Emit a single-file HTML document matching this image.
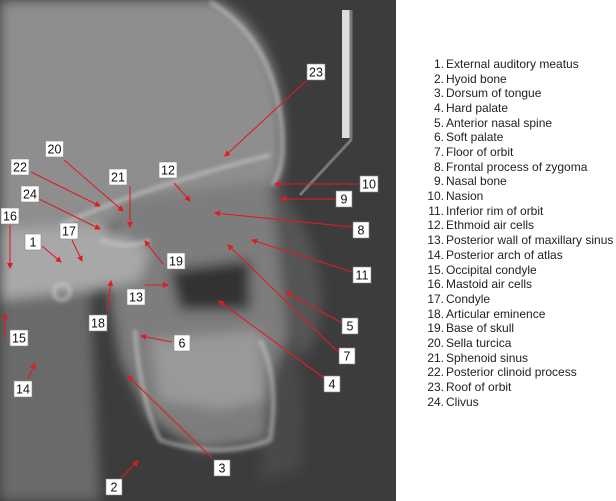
<!DOCTYPE html>
<html><head><meta charset="utf-8"><style>
html,body{margin:0;padding:0;background:#fff;width:616px;height:501px;overflow:hidden}
svg{position:absolute;left:0;top:0;overflow:hidden;display:block}
.lg{position:absolute;left:0;top:0;width:616px;height:420px;font:12px "Liberation Sans",sans-serif;color:#222}
.lg div{position:absolute;height:15px;line-height:15px;white-space:nowrap}
.lg span{display:inline-block;width:20px;text-align:right;margin-right:2px}
</style></head><body>
<svg width="616" height="501" viewBox="0 0 616 501">
<defs>
<filter id="b" filterUnits="userSpaceOnUse" x="0" y="0" width="396" height="501"><feGaussianBlur stdDeviation="6"/></filter>
<filter id="b2" filterUnits="userSpaceOnUse" x="0" y="0" width="396" height="501"><feGaussianBlur stdDeviation="2"/></filter>
<clipPath id="c"><rect x="0" y="0" width="396" height="501"/></clipPath>
<marker id="ah" markerWidth="6" markerHeight="6" refX="5" refY="3" orient="auto" markerUnits="userSpaceOnUse"><path d="M0,0 L6,3 L0,6 z" fill="#e01b24"/></marker>
</defs>
<rect x="0" y="0" width="396" height="501" fill="#3c3c3c"/>
<g clip-path="url(#c)">
<g filter="url(#b)">
<path d="M0,0 L215,0 Q275,30 282,120 Q286,170 275,190 L230,200 L140,215 L60,240 L0,245 Z" fill="#8e8e8e"/>
<path d="M120,200 L275,180 L300,240 L310,290 L300,330 L290,370 L270,440 L200,450 L150,420 L120,360 L110,300 Z" fill="#7d7d7d"/>
<path d="M270,180 Q310,220 320,280 Q325,320 310,350 L290,360 Z" fill="#555"/>
<path d="M290,330 Q310,380 300,470 L260,480 L270,380 Z" fill="#4a4a4a"/>
<path d="M0,230 L100,225 L150,250 L140,280 L60,300 L0,300 Z" fill="#a8a8a8"/>
<path d="M0,300 L90,290 L100,501 L0,501 Z" fill="#6a6a6a"/>
<path d="M150,340 L260,330 L265,400 L220,410 L160,400 Z" fill="#999"/>
<path d="M170,270 L250,260 L250,310 L180,310 Z" fill="#333"/>
</g>
<g fill="none" stroke="#cfcfcf" stroke-width="3" filter="url(#b2)" opacity="0.8">
<path d="M210,2 Q275,40 282,130 Q285,170 272,185"/>
<path d="M60,225 Q150,185 270,155"/>
<path d="M100,240 Q130,250 150,240"/>
<path d="M135,330 Q140,400 160,440 Q220,460 270,440 Q280,380 260,340"/>
<circle cx="62" cy="292" r="8"/>
</g>
</g>
<rect x="342" y="10" width="9" height="128" fill="#ddd"/>
<path d="M351,10 V140 L300,195" stroke="#777" stroke-width="3" fill="none"/>
<g stroke="#e01b24" stroke-width="1.1" marker-end="url(#ah)">
<line x1="306" y1="81" x2="225" y2="156"/>
<line x1="64" y1="160" x2="123" y2="211"/>
<line x1="31" y1="172" x2="100" y2="206"/>
<line x1="130" y1="186" x2="130" y2="227"/>
<line x1="174" y1="183" x2="190" y2="201"/>
<line x1="39" y1="199" x2="100" y2="229"/>
<line x1="10" y1="225" x2="10" y2="268"/>
<line x1="72" y1="240" x2="82" y2="261"/>
<line x1="42" y1="246" x2="61" y2="262"/>
<line x1="163" y1="264" x2="145" y2="241"/>
<line x1="145" y1="285" x2="168" y2="285"/>
<line x1="107" y1="311" x2="111" y2="281"/>
<line x1="5" y1="338" x2="5" y2="314"/>
<line x1="172" y1="342" x2="141" y2="336"/>
<line x1="28" y1="379" x2="35" y2="364"/>
<line x1="213" y1="459" x2="128" y2="376"/>
<line x1="121" y1="478" x2="138" y2="461"/>
<line x1="359" y1="184" x2="275" y2="184"/>
<line x1="335" y1="199" x2="281" y2="199"/>
<line x1="352" y1="227" x2="215" y2="213"/>
<line x1="352" y1="272" x2="252" y2="240"/>
<line x1="342" y1="323" x2="286" y2="292"/>
<line x1="338" y1="352" x2="228" y2="245"/>
<line x1="324" y1="378" x2="219" y2="301"/>
</g>
<g font-family="Liberation Sans, sans-serif" font-size="12.5" text-anchor="middle" fill="#111" stroke-width="0.6">
<rect x="307" y="64" width="18" height="16" fill="#fff" stroke="#888"/><text x="316" y="76.5">23</text>
<rect x="45.5" y="141" width="18" height="16" fill="#fff" stroke="#888"/><text x="54.5" y="153.5">20</text>
<rect x="11" y="159" width="18" height="16" fill="#fff" stroke="#888"/><text x="20" y="171.5">22</text>
<rect x="109" y="169" width="18" height="16" fill="#fff" stroke="#888"/><text x="118" y="181.5">21</text>
<rect x="159" y="162" width="18" height="16" fill="#fff" stroke="#888"/><text x="168" y="174.5">12</text>
<rect x="21" y="186" width="18" height="16" fill="#fff" stroke="#888"/><text x="30" y="198.5">24</text>
<rect x="1" y="208" width="18" height="16" fill="#fff" stroke="#888"/><text x="10" y="220.5">16</text>
<rect x="60" y="223" width="18" height="16" fill="#fff" stroke="#888"/><text x="69" y="235.5">17</text>
<rect x="25" y="234" width="16" height="16" fill="#fff" stroke="#888"/><text x="33" y="246.5">1</text>
<rect x="167" y="253" width="18" height="16" fill="#fff" stroke="#888"/><text x="176" y="265.5">19</text>
<rect x="127" y="289" width="18" height="16" fill="#fff" stroke="#888"/><text x="136" y="301.5">13</text>
<rect x="89" y="315" width="18" height="16" fill="#fff" stroke="#888"/><text x="98" y="327.5">18</text>
<rect x="10" y="330" width="18" height="16" fill="#fff" stroke="#888"/><text x="19" y="342.5">15</text>
<rect x="174" y="335" width="16" height="16" fill="#fff" stroke="#888"/><text x="182" y="347.5">6</text>
<rect x="14" y="381" width="18" height="16" fill="#fff" stroke="#888"/><text x="23" y="393.5">14</text>
<rect x="214" y="460" width="16" height="16" fill="#fff" stroke="#888"/><text x="222" y="472.5">3</text>
<rect x="106" y="479" width="16" height="16" fill="#fff" stroke="#888"/><text x="114" y="491.5">2</text>
<rect x="360" y="176" width="18" height="16" fill="#fff" stroke="#888"/><text x="369" y="188.5">10</text>
<rect x="336" y="191" width="16" height="16" fill="#fff" stroke="#888"/><text x="344" y="203.5">9</text>
<rect x="353" y="222" width="16" height="16" fill="#fff" stroke="#888"/><text x="361" y="234.5">8</text>
<rect x="353" y="267" width="18" height="16" fill="#fff" stroke="#888"/><text x="362" y="279.5">11</text>
<rect x="342" y="318" width="16" height="16" fill="#fff" stroke="#888"/><text x="350" y="330.5">5</text>
<rect x="339" y="348" width="16" height="16" fill="#fff" stroke="#888"/><text x="347" y="360.5">7</text>
<rect x="324" y="376" width="16" height="16" fill="#fff" stroke="#888"/><text x="332" y="388.5">4</text>
</g>
</svg>
<div class="lg">
<div style="left:424px;top:57px"><span>1.</span>External auditory meatus</div>
<div style="left:424px;top:72px"><span>2.</span>Hyoid bone</div>
<div style="left:424px;top:86px"><span>3.</span>Dorsum of tongue</div>
<div style="left:424px;top:101px"><span>4.</span>Hard palate</div>
<div style="left:424px;top:116px"><span>5.</span>Anterior nasal spine</div>
<div style="left:424px;top:130px"><span>6.</span>Soft palate</div>
<div style="left:424px;top:145px"><span>7.</span>Floor of orbit</div>
<div style="left:424px;top:160px"><span>8.</span>Frontal process of zygoma</div>
<div style="left:424px;top:174px"><span>9.</span>Nasal bone</div>
<div style="left:424px;top:189px"><span>10.</span>Nasion</div>
<div style="left:424px;top:204px"><span>11.</span>Inferior rim of orbit</div>
<div style="left:424px;top:218px"><span>12.</span>Ethmoid air cells</div>
<div style="left:424px;top:233px"><span>13.</span>Posterior wall of maxillary sinus</div>
<div style="left:424px;top:248px"><span>14.</span>Posterior arch of atlas</div>
<div style="left:424px;top:263px"><span>15.</span>Occipital condyle</div>
<div style="left:424px;top:277px"><span>16.</span>Mastoid air cells</div>
<div style="left:424px;top:292px"><span>17.</span>Condyle</div>
<div style="left:424px;top:307px"><span>18.</span>Articular eminence</div>
<div style="left:424px;top:321px"><span>19.</span>Base of skull</div>
<div style="left:424px;top:336px"><span>20.</span>Sella turcica</div>
<div style="left:424px;top:351px"><span>21.</span>Sphenoid sinus</div>
<div style="left:424px;top:365px"><span>22.</span>Posterior clinoid process</div>
<div style="left:424px;top:380px"><span>23.</span>Roof of orbit</div>
<div style="left:424px;top:395px"><span>24.</span>Clivus</div>
</div>
</body></html>
